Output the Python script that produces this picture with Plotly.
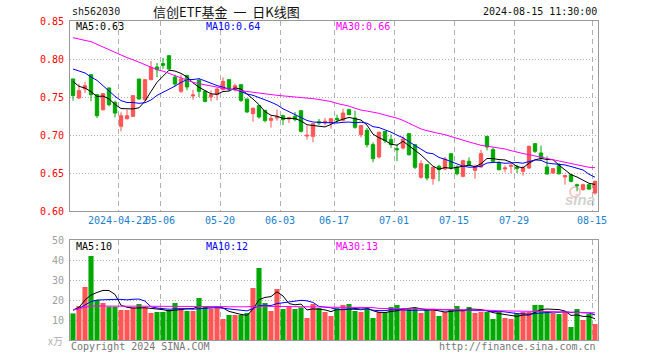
import plotly.graph_objects as go
import pandas as pd

# ---------------- data ----------------
dates = [
    "2024-04-10", "2024-04-11", "2024-04-12", "2024-04-15", "2024-04-16", "2024-04-17", "2024-04-18", "2024-04-19",
    "2024-04-22", "2024-04-23", "2024-04-24", "2024-04-25", "2024-04-26", "2024-04-29", "2024-04-30",
    "2024-05-06", "2024-05-07", "2024-05-08", "2024-05-09", "2024-05-10",
    "2024-05-13", "2024-05-14", "2024-05-15", "2024-05-16", "2024-05-17",
    "2024-05-20", "2024-05-21", "2024-05-22", "2024-05-23", "2024-05-24",
    "2024-05-27", "2024-05-28", "2024-05-29", "2024-05-30", "2024-05-31",
    "2024-06-03", "2024-06-04", "2024-06-05", "2024-06-06", "2024-06-07",
    "2024-06-11", "2024-06-12", "2024-06-13", "2024-06-14",
    "2024-06-17", "2024-06-18", "2024-06-19", "2024-06-20", "2024-06-21",
    "2024-06-24", "2024-06-25", "2024-06-26", "2024-06-27", "2024-06-28",
    "2024-07-01", "2024-07-02", "2024-07-03", "2024-07-04", "2024-07-05",
    "2024-07-08", "2024-07-09", "2024-07-10", "2024-07-11", "2024-07-12",
    "2024-07-15", "2024-07-16", "2024-07-17", "2024-07-18", "2024-07-19",
    "2024-07-22", "2024-07-23", "2024-07-24", "2024-07-25", "2024-07-26",
    "2024-07-29", "2024-07-30", "2024-07-31", "2024-08-01", "2024-08-02",
    "2024-08-05", "2024-08-06", "2024-08-07", "2024-08-08", "2024-08-09",
    "2024-08-12", "2024-08-13", "2024-08-14", "2024-08-15",
]

open_ = [0.7737, 0.7487, 0.7605, 0.7794, 0.7531, 0.7333, 0.7618, 0.7430, 0.7114, 0.7215,
         0.7246, 0.7737, 0.7465, 0.7728, 0.7895, 0.7939, 0.8044, 0.7763, 0.7575, 0.7781,
         0.7513, 0.7719, 0.7575, 0.7500, 0.7531, 0.7596, 0.7728, 0.7618, 0.7662, 0.7474,
         0.7281, 0.7386, 0.7325, 0.7193, 0.7224, 0.7254, 0.7211, 0.7246, 0.7320, 0.6987,
         0.6982, 0.7175, 0.7158, 0.7158, 0.7219, 0.7193, 0.7333, 0.7224, 0.7004, 0.7061,
         0.6873, 0.6711, 0.7048, 0.6939, 0.6820, 0.6829, 0.7018, 0.6873, 0.6443, 0.6610,
         0.6425, 0.6588, 0.6553, 0.6754, 0.6579, 0.6456, 0.6654, 0.6535, 0.6579, 0.6982,
         0.6807, 0.6640, 0.6553, 0.6588, 0.6579, 0.6522, 0.6566, 0.6886, 0.6763, 0.6579,
         0.6500, 0.6596, 0.6447, 0.6478, 0.6346, 0.6281, 0.6346, 0.6237]
high = [0.7740, 0.7675, 0.7702, 0.7794, 0.7531, 0.7553, 0.7627, 0.7452, 0.7298, 0.7333,
        0.7518, 0.7737, 0.7728, 0.7974, 0.7947, 0.8013, 0.8044, 0.7794, 0.7794, 0.7794,
        0.7596, 0.7750, 0.7575, 0.7588, 0.7618, 0.7759, 0.7728, 0.7675, 0.7662, 0.7474,
        0.7364, 0.7390, 0.7325, 0.7254, 0.7333, 0.7268, 0.7237, 0.7303, 0.7320, 0.7123,
        0.7158, 0.7211, 0.7224, 0.7215, 0.7268, 0.7346, 0.7346, 0.7320, 0.7130, 0.7092,
        0.6904, 0.7048, 0.7048, 0.7004, 0.6873, 0.6982, 0.7018, 0.6873, 0.6667, 0.6610,
        0.6575, 0.6610, 0.6711, 0.6760, 0.6601, 0.6675, 0.6706, 0.6610, 0.6807, 0.6982,
        0.6838, 0.6654, 0.6600, 0.6640, 0.6610, 0.6596, 0.6860, 0.6895, 0.6860, 0.6719,
        0.6566, 0.6632, 0.6478, 0.6478, 0.6360, 0.6360, 0.6346, 0.6399]
low = [0.7452, 0.7474, 0.7553, 0.7443, 0.7224, 0.7320, 0.7377, 0.7232, 0.7048, 0.7202,
       0.7237, 0.7465, 0.7452, 0.7720, 0.7763, 0.7868, 0.7860, 0.7640, 0.7553, 0.7588,
       0.7465, 0.7500, 0.7430, 0.7443, 0.7456, 0.7588, 0.7575, 0.7575, 0.7434, 0.7290,
       0.7175, 0.7215, 0.7167, 0.7096, 0.7189, 0.7132, 0.7158, 0.7180, 0.7035, 0.6939,
       0.6904, 0.7132, 0.7127, 0.7083, 0.7158, 0.7180, 0.7259, 0.7083, 0.6969, 0.6838,
       0.6640, 0.6689, 0.6895, 0.6829, 0.6654, 0.6807, 0.6728, 0.6553, 0.6425, 0.6404,
       0.6346, 0.6390, 0.6535, 0.6544, 0.6469, 0.6443, 0.6596, 0.6425, 0.6566, 0.6798,
       0.6640, 0.6535, 0.6509, 0.6500, 0.6500, 0.6465, 0.6553, 0.6763, 0.6667, 0.6478,
       0.6491, 0.6478, 0.6346, 0.6377, 0.6259, 0.6268, 0.6280, 0.6215]
close = [0.7518, 0.7583, 0.7649, 0.7531, 0.7254, 0.7544, 0.7399, 0.7289, 0.7254, 0.7254,
         0.7518, 0.7474, 0.7728, 0.7890, 0.7860, 0.7917, 0.7868, 0.7671, 0.7737, 0.7632,
         0.7526, 0.7575, 0.7443, 0.7531, 0.7605, 0.7706, 0.7605, 0.7649, 0.7456, 0.7303,
         0.7351, 0.7237, 0.7189, 0.7219, 0.7241, 0.7202, 0.7228, 0.7202, 0.7048, 0.6996,
         0.7149, 0.7158, 0.7180, 0.7215, 0.7202, 0.7289, 0.7268, 0.7101, 0.7123, 0.6873,
         0.6689, 0.7035, 0.6925, 0.6873, 0.6807, 0.6947, 0.6741, 0.6575, 0.6623, 0.6434,
         0.6575, 0.6544, 0.6684, 0.6566, 0.6491, 0.6662, 0.6610, 0.6588, 0.6754, 0.6842,
         0.6654, 0.6544, 0.6566, 0.6600, 0.6561, 0.6566, 0.6851, 0.6785, 0.6697, 0.6487,
         0.6557, 0.6491, 0.6465, 0.6390, 0.6333, 0.6346, 0.6289, 0.6390]

# volume in 万
volume = [13.3, 17.0, 26.5, 42.0, 20.0, 18.5, 16.7, 16.7, 15.0, 15.0,
          16.3, 18.0, 16.3, 13.5, 14.0, 14.0, 15.0, 18.5, 16.0, 14.5,
          14.5, 21.0, 17.0, 15.5, 16.0, 10.5, 12.5, 12.5, 12.5, 13.5,
          26.0, 36.0, 18.5, 14.5, 25.5, 15.5, 17.0, 15.5, 16.3, 11.0,
          18.0, 16.0, 14.0, 12.0, 16.2, 17.5, 18.0, 14.5, 14.0, 15.7,
          11.0, 14.0, 14.0, 16.5, 17.5, 15.5, 15.5, 16.0, 13.5, 15.0,
          15.5, 12.0, 14.0, 15.0, 17.0, 15.0, 16.5, 13.5, 14.0, 14.0,
          10.5, 14.0, 11.0, 10.5, 13.0, 14.0, 14.0, 17.5, 17.5, 14.5,
          13.5, 13.0, 14.0, 6.5, 15.5, 10.0, 13.0, 8.0]

# moving-average values before enough bars are on screen
ma5_head = [0.7706, 0.7640, 0.7618, 0.7570]
ma10_head = [0.7868, 0.7838, 0.7816, 0.7763, 0.7719, 0.7649, 0.7575, 0.7509, 0.7452]
ma30 = [0.8280, 0.8260, 0.8246, 0.8228, 0.8193, 0.8158, 0.8123, 0.8088, 0.8048, 0.8018,
        0.7990, 0.7956, 0.7920, 0.7886, 0.7860, 0.7840, 0.7810, 0.7780, 0.7750, 0.7720,
        0.7693, 0.7675, 0.7658, 0.7640, 0.7625, 0.7615, 0.7603, 0.7592, 0.7580, 0.7570,
        0.7560, 0.7552, 0.7544, 0.7533, 0.7522, 0.7515, 0.7509, 0.7502, 0.7496, 0.7487,
        0.7478, 0.7467, 0.7456, 0.7440, 0.7415, 0.7398, 0.7380, 0.7352, 0.7328, 0.7315,
        0.7303, 0.7285, 0.7262, 0.7243, 0.7222, 0.7192, 0.7155, 0.7120, 0.7080, 0.7057,
        0.7035, 0.7020, 0.7004, 0.6978, 0.6952, 0.6930, 0.6908, 0.6886, 0.6864, 0.6853,
        0.6842, 0.6830, 0.6816, 0.6794, 0.6772, 0.6756, 0.6741, 0.6724, 0.6706, 0.6690,
        0.6675, 0.6660, 0.6645, 0.6625, 0.6605, 0.6590, 0.6575, 0.6570]
vol_ma5_head = [15.0, 16.3, 20.0, 22.5]
vol_ma10_head = [15.0, 15.8, 17.5, 19.2, 20.0, 20.2, 20.3, 20.3, 20.3]
vol_ma30 = [15.0, 15.8, 16.3, 17.0, 17.0, 17.0, 17.0, 17.0, 17.0, 17.0,
            17.0, 17.0, 17.0, 17.0, 17.0, 17.0, 17.0, 17.0, 17.0, 17.0,
            17.0, 16.9, 16.9, 16.8, 16.8, 16.7, 16.6, 16.5, 16.5, 16.6,
            16.8, 17.0, 16.9, 16.8, 16.8, 16.7, 16.7, 16.7, 16.6, 16.6,
            16.6, 16.6, 16.5, 16.4, 16.3, 16.3, 16.3, 16.3, 16.3, 16.3,
            16.2, 15.8, 15.7, 15.7, 15.7, 15.7, 15.6, 15.6, 15.5, 15.5,
            15.4, 15.3, 15.2, 15.2, 15.1, 15.1, 15.0, 15.0, 15.0, 14.9,
            14.8, 14.6, 14.5, 14.5, 14.4, 14.4, 14.4, 14.3, 14.3, 14.2,
            14.1, 14.0, 13.9, 13.8, 13.8, 13.7, 13.7, 13.6]

tick_dates = ["2024-04-22", "2024-05-06", "2024-05-20", "2024-06-03", "2024-06-17",
              "2024-07-01", "2024-07-15", "2024-07-29", "2024-08-15"]
tick_labels = ["2024-04-22", "05-06", "05-20", "06-03", "06-17", "07-01", "07-15", "07-29", "08-15"]

price_ticks = [0.60, 0.65, 0.70, 0.75, 0.80, 0.85]
vol_ticks = [10, 20, 30, 40, 50]

# --------------- derived ----------------
def moving(values, n, head):
    s = pd.Series(values).rolling(n).mean().tolist()
    return head + s[len(head):]

ma5 = moving(close, 5, ma5_head)
ma10 = moving(close, 10, ma10_head)
vol_ma5 = moving(volume, 5, vol_ma5_head)
vol_ma10 = moving(volume, 10, vol_ma10_head)

n = len(dates)
xpos = [i + 0.5 for i in range(n)]
tickpos = [dates.index(d) for d in tick_dates]

RED = "#ff5555"
GREEN = "#00a800"
vol_colors = [RED if c >= o else GREEN for o, c in zip(open_, close)]

MONO = "DejaVu Sans Mono"
W, H = 660, 360
ML, MR, MT, MB = 70, 62, 21, 20

def px(x):
    return (x - ML) / (W - ML - MR)

def py(y):
    return (H - MB - y) / (H - MT - MB)

fig = go.Figure()

fig.add_trace(go.Candlestick(
    x=xpos, open=open_, high=high, low=low, close=close,
    increasing=dict(line=dict(color=RED, width=1), fillcolor=RED),
    decreasing=dict(line=dict(color=GREEN, width=1), fillcolor=GREEN),
    whiskerwidth=0, xaxis="x", yaxis="y", showlegend=False, hoverinfo="skip",
))
for vals, col in [(ma5, "#000000"), (ma10, "#0000ff"), (ma30, "#ff00ff")]:
    fig.add_trace(go.Scatter(x=xpos, y=vals, mode="lines", line=dict(color=col, width=1),
                             xaxis="x", yaxis="y", showlegend=False, hoverinfo="skip"))

fig.add_trace(go.Bar(x=xpos, y=volume, marker=dict(color=vol_colors, line=dict(width=0)),
                     width=0.85, xaxis="x2", yaxis="y2", showlegend=False, hoverinfo="skip"))
for vals, col in [(vol_ma5, "#000000"), (vol_ma10, "#0000ff"), (vol_ma30, "#ff00ff")]:
    fig.add_trace(go.Scatter(x=xpos, y=vals, mode="lines", line=dict(color=col, width=1),
                             xaxis="x2", yaxis="y2", showlegend=False, hoverinfo="skip"))

top_price = 1.0
bot_price = py(211)
top_vol = py(240)

frame = "#999999"
grid = "#b0b0b0"

fig.update_layout(
    width=W, height=H,
    margin=dict(l=ML, r=MR, t=MT, b=MB, autoexpand=False),
    paper_bgcolor="white", plot_bgcolor="white",
    boxgap=0.2,
    xaxis=dict(domain=[0, 1], range=[0, n], anchor="y", automargin=False,
               tickmode="array", tickvals=tickpos, ticktext=tick_labels, tickangle=0,
               tickfont=dict(family=MONO, size=10, color="#1a80d0"),
               showgrid=True, gridcolor=grid, griddash="5px,4px", gridwidth=1,
               showline=True, mirror=True, linecolor=frame, linewidth=1,
               ticks="", zeroline=False, rangeslider=dict(visible=False), fixedrange=True),
    yaxis=dict(domain=[bot_price, top_price], range=[0.60, 0.85], anchor="x", automargin=False,
               tickmode="array", tickvals=price_ticks, ticktext=["%.2f" % v for v in price_ticks],
               tickfont=dict(family=MONO, size=10, color="#ff0000"),
               showgrid=True, gridcolor=grid, griddash="1px,2px", gridwidth=1,
               showline=True, mirror=True, linecolor=frame, linewidth=1,
               ticks="", ticklabelstandoff=3, zeroline=False),
    xaxis2=dict(domain=[0, 1], range=[0, n], anchor="y2", matches="x", automargin=False,
                tickmode="array", tickvals=tickpos, showticklabels=False,
                showgrid=True, gridcolor=grid, griddash="5px,4px", gridwidth=1,
                showline=True, mirror=True, linecolor=frame, linewidth=1,
                ticks="", zeroline=False),
    yaxis2=dict(domain=[0, top_vol], range=[0, 50], anchor="x2", automargin=False,
                tickmode="array", tickvals=vol_ticks, ticktext=[str(v) for v in vol_ticks],
                tickfont=dict(family=MONO, size=10, color="#a0a0a0"),
                showgrid=True, gridcolor=grid, griddash="1px,2px", gridwidth=1,
                showline=True, mirror=True, linecolor=frame, linewidth=1,
                ticks="", ticklabelstandoff=3, zeroline=False),
)

def label(text, x, y, color, size=10, family=MONO, xanchor="left"):
    fig.add_annotation(text=text, x=px(x), y=py(y), xref="paper", yref="paper",
                       xanchor=xanchor, yanchor="middle", showarrow=False,
                       font=dict(family=family, size=size, color=color))

# header
label("sh562030", 70, 12, "#222222")
label("信创ETF基金 &nbsp;一 &nbsp;日K线图", 226, 12, "#111111", size=13,
      family="Noto Sans CJK SC", xanchor="center")
label("2024-08-15 11:30:00", 599, 12, "#111111", xanchor="right")

# price MA legend
label("MA5:%.2f" % 0.63, 74, 27, "#000000")
label("MA10:%.2f" % 0.64, 204, 27, "#0000ff")
label("MA30:%.2f" % 0.66, 334, 27, "#ff00ff")

# volume MA legend
label("MA5:10", 74, 246, "#000000")
label("MA10:12", 204, 246, "#0000ff")
label("MA30:13", 334, 246, "#ff00ff")

# unit & footer
label("x万", 65, 341, "#b0b0b0", size=10, family="Noto Sans CJK SC", xanchor="right")
label("Copyright 2024 SINA.COM", 69, 346, "#777777")
label("http://finance.sina.com.cn", 598, 346, "#777777", xanchor="right")

# sina watermark
fig.add_annotation(text="<b><i>sina</i></b>", x=px(597), y=py(199), xref="paper", yref="paper",
                   xanchor="right", yanchor="middle", showarrow=False,
                   font=dict(family="Liberation Sans", size=15, color="rgba(170,170,170,0.55)"))
fig.add_shape(type="circle", xref="paper", yref="paper",
              x0=px(570), x1=px(580), y0=py(197), y1=py(187),
              line=dict(color="rgba(235,90,90,0.35)", width=2))

# the page body has a default 8px margin; remove it so the figure sits at the window origin
fig.write_html("out.html", config={"displayModeBar": False, "staticPlot": True},
               post_script="document.body.style.margin='0';")
